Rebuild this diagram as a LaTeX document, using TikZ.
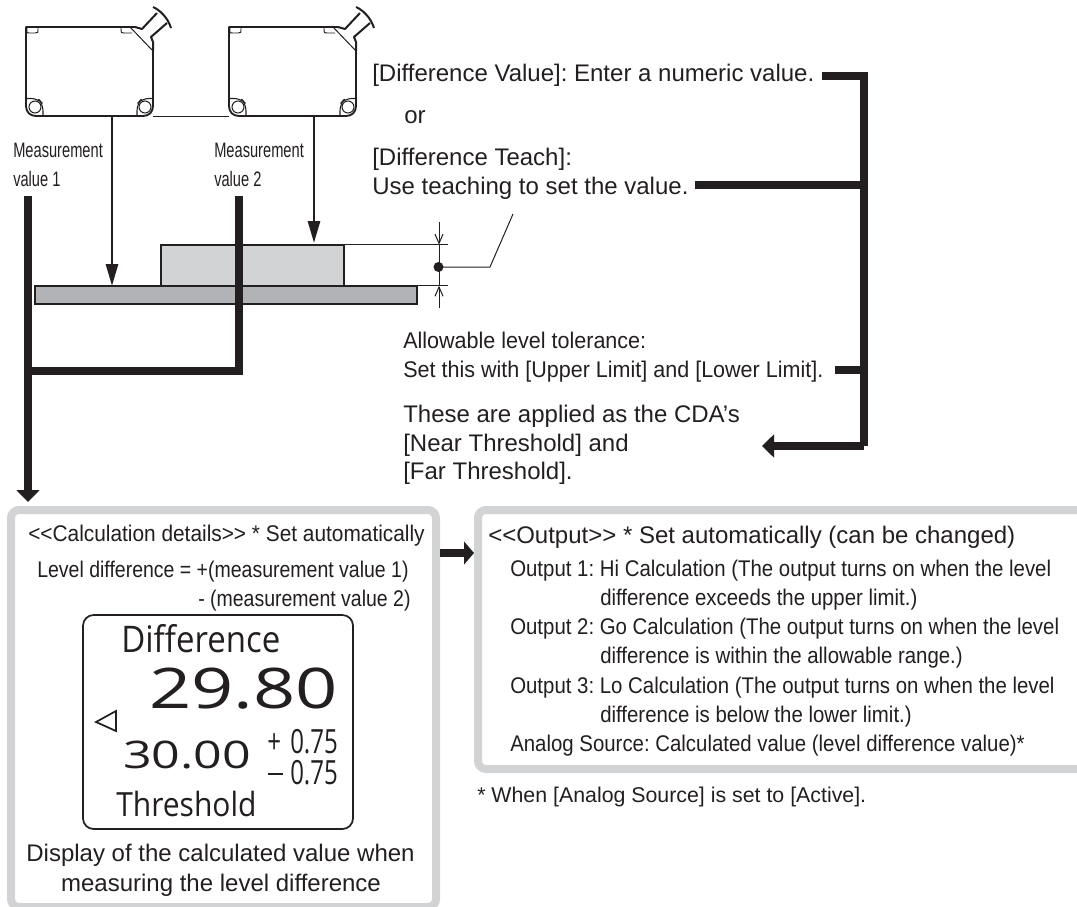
\documentclass[tikz,border=0pt]{standalone}
\usepackage{fontspec}
\setmainfont{Liberation Sans}
\newfontfamily\cf[FakeStretch=0.86]{Liberation Sans}
\newfontfamily\cg[FakeStretch=0.90]{Liberation Sans}
\newfontfamily\ch[FakeStretch=0.92]{Liberation Sans}
\newfontfamily\ci[FakeStretch=0.95]{Liberation Sans}
\newfontfamily\cff[FakeStretch=0.70]{Liberation Sans}
\newfontfamily\lcd[FakeStretch=0.9]{Open Sans}
\newfontfamily\lcdw[FakeStretch=1.32]{Open Sans}
\newfontfamily\lcdn[FakeStretch=0.72]{Open Sans}
\definecolor{ink}{HTML}{231F20}
\definecolor{frame}{HTML}{D1D3D4}
\definecolor{blockg}{HTML}{D1D3D4}
\definecolor{plate}{HTML}{B1B3B6}
\usetikzlibrary{arrows.meta}
\frenchspacing
\tikzset{
  thick line/.style={draw=ink,line width=5.8pt},
  thin line/.style={draw=ink,line width=0.75pt},
  lab/.style={inner sep=0pt,anchor=base west,text=ink},
  big/.style={lab,font=\fontsize{18}{22}\selectfont},
  mid/.style={lab,font=\ci\fontsize{17}{22}\selectfont},
  outl/.style={lab,font=\cg\fontsize{17}{22}\selectfont},
  small/.style={lab,font=\cf\fontsize{17}{22}\selectfont},
  tiny/.style={lab,font=\cff\fontsize{15.7}{18}\selectfont},
  probe/.style={draw=ink,line width=0.75pt,-{Straight Barb[length=7pt,width=6pt]}},
  frame box/.style={draw=frame,line width=6pt,fill=white,rounded corners=6pt},
  part/.style={draw=ink,line width=1.5pt,inner sep=0pt,outer sep=0pt,anchor=north west},
  meas/.style={draw=ink,line width=2.1pt,-{Triangle[length=16.5pt,width=9pt]}},
}
\newcommand{\sensor}[2]{%
\begin{scope}[shift={(#1,#2)}]
  \draw[draw=ink,line width=1.4pt,line join=round] (135,27) -- (26,27) -- (26,106) .. controls (26,112) and (30,116) .. (36,116) -- (143,116) .. controls (149,116) and (153,112) .. (153,106) -- (153,51);
  \draw[thin line] (130,27) -- (153,51);
  \draw[draw=ink,line width=.7pt] (27,28) -- (27,32) .. controls (27,33) .. (30,33) -- (35,33) .. controls (38,33) .. (38,28);
  \draw[draw=ink,line width=.7pt] (121,28) .. controls (121,33) .. (125,33) -- (132,33);
  \draw[draw=ink,line width=.8pt,rounded corners=5pt] (26,98.5) -- (38,98.5) -- (43,104) -- (43,116);
  \draw[draw=ink,line width=.8pt,rounded corners=5pt] (153,98.5) -- (142,98.5) -- (137,104) -- (137,116);
  \draw[draw=ink,line width=.8pt] (35,107) circle (6);
  \draw[draw=ink,line width=.8pt] (145,107) circle (6);
  \draw[draw=ink,line width=1.5pt,line join=round] (135,27) -- (142,29) -- (157,13);
  \draw[draw=ink,line width=1.5pt,line join=round] (153,7) .. controls (160,10) and (168,18) .. (171,28);
  \draw[draw=ink,line width=1.5pt,line join=round] (167,23) -- (151,37) -- (153,42) -- (153,51);
\end{scope}}
\begin{document}
\begin{tikzpicture}[x=0.75pt,y=-0.75pt]
\useasboundingbox (0,0) rectangle (1077,906);
% sensors
\sensor{0}{0}
\sensor{203}{0}
\coordinate (sb1) at (112,116);
\coordinate (sb2) at (314,116);
\coordinate (s1r) at (153,116);
\coordinate (s2l) at (229,116);
\draw[thin line] (s1r) -- (s2l);
% work piece
\node[part,fill=blockg,minimum width=137.9pt,minimum height=30.75pt] (block) at (160.5,244.7) {};
\node[part,fill=plate,minimum width=286.5pt,minimum height=13.5pt] (platen) at (35,285.7) {};
\coordinate (t1) at (112,286);
\coordinate (t2) at (314,243);
\draw[meas] (sb1) -- (t1);
\draw[meas] (sb2) -- (t2);
% dimension
\coordinate (d1) at (448,244.7);
\coordinate (d2) at (448,285.7);
\draw[thin line] (344,244.7) -- (d1);
\draw[thin line] (416,285.7) -- (d2);
\coordinate (dim) at (438.5,267);
\coordinate (pa) at (439,222);
\coordinate (pb) at (439,308);
\coordinate (pat) at (439,244.7);
\coordinate (pbt) at (439,285.7);
\draw[probe] (pa) -- (pat);
\draw[probe] (pb) -- (pbt);
\draw[thin line] (pat) -- (pbt);
\fill[ink] (dim) circle (5);
\coordinate (la) at (490,267);
\coordinate (lb) at (513,214);
\draw[thin line] (dim) -- (la) -- (lb);
% left thick connectors
\coordinate (m1) at (28,196);
\coordinate (m2) at (239.3,196);
\coordinate (j) at (28,371);
\coordinate (k) at (239.3,371);
\coordinate (tip) at (28,502);
\draw[thick line] (m2) -- (k) -- (j);
\draw[thick line,-{Triangle[length=9pt,width=17pt]}] (m1) -- (tip);
% right bracket
\coordinate (b1) at (822,76);
\coordinate (b2) at (864,76);
\coordinate (b3) at (695,185);
\coordinate (b4) at (864,185);
\coordinate (b5) at (835,370);
\coordinate (b6) at (864,370);
\coordinate (b7) at (864,446);
\coordinate (b8) at (762,446);
\draw[thick line] (b1) -- (b2) -- (b7);
\draw[thick line] (b3) -- (b4);
\draw[thick line] (b5) -- (b6);
\draw[thick line,-{Triangle[length=9pt,width=17pt]}] (b7) -- (b8);
% labels upper
\node[tiny] (lm1a) at (13,157) {Measurement};
\node[tiny] (lm1b) at (13,186) {value 1};
\node[tiny] (lm2a) at (214,157) {Measurement};
\node[tiny] (lm2b) at (214,186) {value 2};
\node[big] (t1a) at (372,82) {[Difference Value]: Enter a numeric value.};
\node[big] (t1b) at (404,123) {or};
\node[big] (t1c) at (372,165) {[Difference Teach]:};
\node[big] (t1d) at (372,194) {Use teaching to set the value.};
\node[mid] (t2a) at (403,348) {Allowable level tolerance:};
\node[mid] (t2b) at (403,377) {Set this with [Upper Limit] and [Lower Limit].};
\node[big] (t3a) at (403,422) {These are applied as the CDA\char39 s};
\node[big] (t3b) at (403,451) {[Near Threshold] and};
\node[big] (t3c) at (403,479) {[Far Threshold].};
% left frame
\path[frame box] (11,510) -- (436,510) -- (436,907) -- (11,907) -- cycle;
\node[lab,font=\ch\fontsize{17}{22}\selectfont] (c1) at (28,541) {{<}{<}Calculation details{>}{>} * Set automatically};
\node[small] (c2) at (37,577) {Level difference = +(measurement value 1)};
\node[small] (c3) at (198,606) {- (measurement value 2)};
\node[draw=ink,line width=1.3pt,rounded corners=8pt,minimum width=202.5pt,minimum height=160.5pt,inner sep=0pt,outer sep=0pt,anchor=north west] (lcdbox) at (83,615) {};
\node[lab,font=\lcd\fontsize{27.5}{30}\selectfont] (dtxt) at (121,652) {Difference};
\node[lab,font=\lcdw\fontsize{42}{50}\selectfont] (val) at (149,708) {29.80};
\node[lab,font=\lcdw\fontsize{28.5}{32}\selectfont] (thr) at (123,768) {30.00};
\node[lab,font=\lcdn\fontsize{25}{28}\selectfont] (p1) at (267,753) {+};
\node[lab,font=\lcdn\fontsize{25}{28}\selectfont] (p1v) at (290,753) {0.75};
\node[lab,font=\lcdn\fontsize{25}{28}\selectfont] (p2v) at (290,784) {0.75};
\coordinate (ma) at (268,774); \coordinate (mb) at (283,774);
\draw[draw=ink,line width=1.7pt] (ma) -- (mb);
\node[lab,font=\lcd\fontsize{25}{27}\selectfont] (thtxt) at (116,816) {Threshold};
\coordinate (ta) at (96,722); \coordinate (tb) at (116,711); \coordinate (tc) at (116,731);
\draw[draw=ink,line width=1.3pt,line join=miter] (ta) -- (tb) -- (tc) -- cycle;
\node[big,anchor=base] (dd1) at (220.5,861) {Display of the calculated value when};
\node[big,anchor=base] (dd2) at (221,891) {measuring the level difference};
% connector
\coordinate (ca) at (440,553);
\coordinate (cb) at (474,553);
\draw[thick line,-{Triangle[length=7.5pt,width=17pt]}] (ca) -- (cb);
% right frame
\path[frame box] (1100,510) -- (478,510) -- (478,769) -- (1100,769) -- cycle;
\node[big] (o0) at (488,543) {{<}{<}Output{>}{>} * Set automatically (can be changed)};
\node[outl] (o1) at (510,576) {Output 1: Hi Calculation (The output turns on when the level};
\node[outl] (o1b) at (600,605) {difference exceeds the upper limit.)};
\node[outl] (o2) at (510,634) {Output 2: Go Calculation (The output turns on when the level};
\node[outl] (o2b) at (600,663) {difference is within the allowable range.)};
\node[outl] (o3) at (510,693) {Output 3: Lo Calculation (The output turns on when the level};
\node[outl] (o3b) at (600,722) {difference is below the lower limit.)};
\node[outl] (o4) at (510,751) {Analog Source: Calculated value (level difference value)*};
\node[lab,font=\fontsize{16}{19}\selectfont] (fn) at (477,802) {* When [Analog Source] is set to [Active].};
\end{tikzpicture}
\end{document}
